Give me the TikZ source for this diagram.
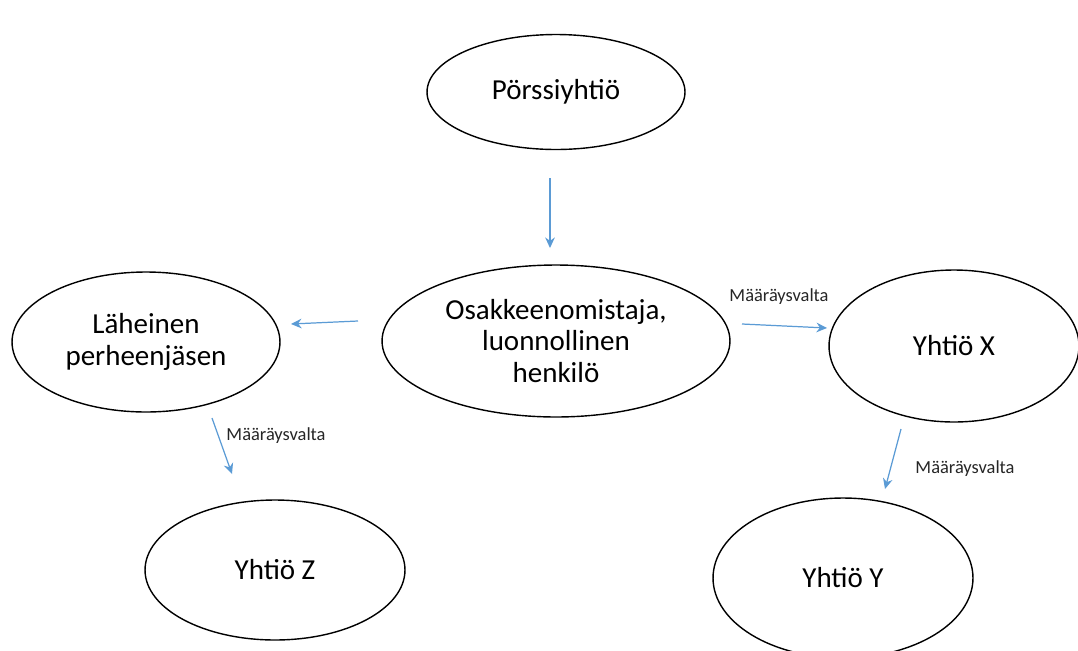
\documentclass[tikz,border=0pt]{standalone}
\usepackage{fontspec}
\setmainfont{Carlito}
\usetikzlibrary{shapes.geometric,arrows.meta}

\definecolor{arrowblue}{RGB}{91,155,213}
\tikzset{
  party/.style={ellipse,draw=black,line width=0.8pt,inner sep=0pt,align=center,font=\fontsize{16.5}{18}\selectfont},
  link/.style={draw=arrowblue,line width=0.7pt,-{Stealth[length=6pt,width=5.5pt]}},
  ctrl/.style={font=\fontsize{10.5}{12}\selectfont,text=black!85}
}

\begin{document}
\begin{tikzpicture}[x=0.02cm,y=-0.02cm]
\useasboundingbox (0,0) rectangle (1078,650);
\node[party,minimum width=5.16cm,minimum height=2.3cm] (listed) at (556,92) {Pörssiyhtiö};
\node[party,minimum width=6.96cm,minimum height=3.04cm] (owner) at (556,341) {Osakkeenomistaja,\\luonnollinen\\henkilö};
\node[party,minimum width=5.36cm,minimum height=2.8cm] (family) at (146,342) {Läheinen\\perheenjäsen};
\node[party,minimum width=5.0cm,minimum height=3.04cm] (x) at (954,346) {Yhtiö X};
\node[party,minimum width=5.2cm,minimum height=2.8cm] (z) at (275,570) {Yhtiö Z};
\node[party,minimum width=5.2cm,minimum height=3.2cm] (y) at (843,578) {Yhtiö Y};
% free arrow ends
\coordinate (a1) at (550,178);
\coordinate (a2) at (550,248);
\coordinate (b1) at (358,321);
\coordinate (b2) at (291,324);
\coordinate (c1) at (742,324);
\coordinate (c2) at (827,328);
\coordinate (d1) at (212,418);
\coordinate (d2) at (232,474);
\coordinate (e1) at (901,429);
\coordinate (e2) at (885,489);
\draw[link] (a1) -- (a2);
\draw[link] (b1) -- (b2);
\draw[link] (c1) -- (c2);
\draw[link] (d1) -- (d2);
\draw[link] (e1) -- (e2);
\node[ctrl] (lc) at (779,297) {Määräysvalta};
\node[ctrl] (ld) at (276,436) {Määräysvalta};
\node[ctrl] (le) at (965,469) {Määräysvalta};
\end{tikzpicture}
\end{document}
